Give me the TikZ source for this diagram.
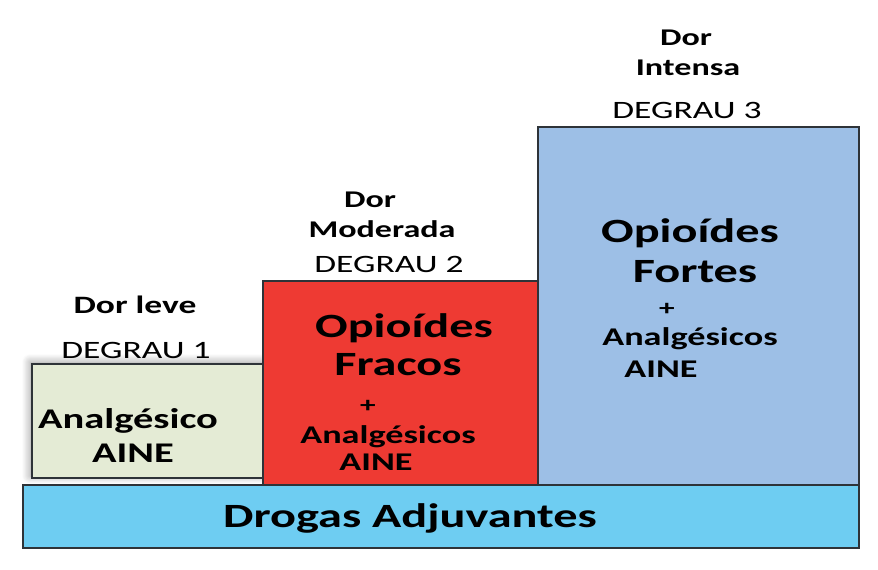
\documentclass[tikz,border=0pt]{standalone}
\usepackage{fontspec}
\newfontfamily\wide[FakeStretch=1.42]{Carlito}
\usetikzlibrary{shadows.blur}
\definecolor{verdeclaro}{HTML}{E4EBD5}
\definecolor{vermelho}{HTML}{EE3A33}
\definecolor{azulforte}{HTML}{9DBFE6}
\definecolor{azulbarra}{HTML}{6ECDF2}
\definecolor{borda}{HTML}{2E3338}
\begin{document}
\begin{tikzpicture}[x=1pt,y=-1pt,
    degrau/.style={draw=borda,line width=2pt},
    txt/.style={anchor=base,inner sep=0pt,font=\wide\bfseries\fontsize{#1}{#1}\selectfont},
    txtn/.style={anchor=base,inner sep=0pt,font=\wide\fontsize{#1}{#1}\selectfont}]
    \useasboundingbox (0,0) rectangle (878,570);
    % degraus
    \draw[degrau,blur shadow={shadow xshift=-2pt,shadow yshift=2pt,shadow opacity=40,shadow blur steps=10,shadow blur radius=8pt},fill=verdeclaro] (32,364) rectangle (263,478);
    \draw[degrau,fill=vermelho] (263,281) rectangle (538,485);
    \draw[degrau,fill=azulforte] (538,127) rectangle (859,485);
    \draw[degrau,fill=azulbarra] (23,485) rectangle (859,548);
    % textos degrau 1
    \node[txt=25] (dorleve) at (135,313) {Dor leve};
    \node[txtn=25] (degrau1) at (136,358) {DEGRAU 1};
    \node[txt=28.5] (analg1) at (128,428) {Analgésico};
    \node[txt=28.5] (aine1) at (133,462) {AINE};
    % textos degrau 2
    \node[txt=24] (dor2) at (370,207) {Dor};
    \node[txt=24] (moderada) at (382,237) {Moderada};
    \node[txtn=25] (degrau2) at (389,272) {DEGRAU 2};
    \node[txt=34] (opio2) at (404,337) {Opioídes};
    \node[txt=34] (fracos) at (398,375) {Fracos};
    \node[txt=22] (mais2) at (368,412) {+};
    \node[txt=25.5] (analg2) at (388,443) {Analgésicos};
    \node[txt=25.5] (aine2) at (376,470) {AINE};
    % textos degrau 3
    \node[txt=24] (dor3) at (686,45) {Dor};
    \node[txt=24] (intensa) at (688,75) {Intensa};
    \node[txtn=25] (degrau3) at (687,118) {DEGRAU 3};
    \node[txt=34] (opio3) at (690,242) {Opioídes};
    \node[txt=34] (fortes) at (695,282) {Fortes};
    \node[txt=22] (mais3) at (667,315) {+};
    \node[txt=25.5] (analg3) at (690,345) {Analgésicos};
    \node[txt=25.5] (aine3) at (661,377) {AINE};
    % barra
    \node[txt=34] (adjuv) at (410,527) {Drogas Adjuvantes};
\end{tikzpicture}
\end{document}
